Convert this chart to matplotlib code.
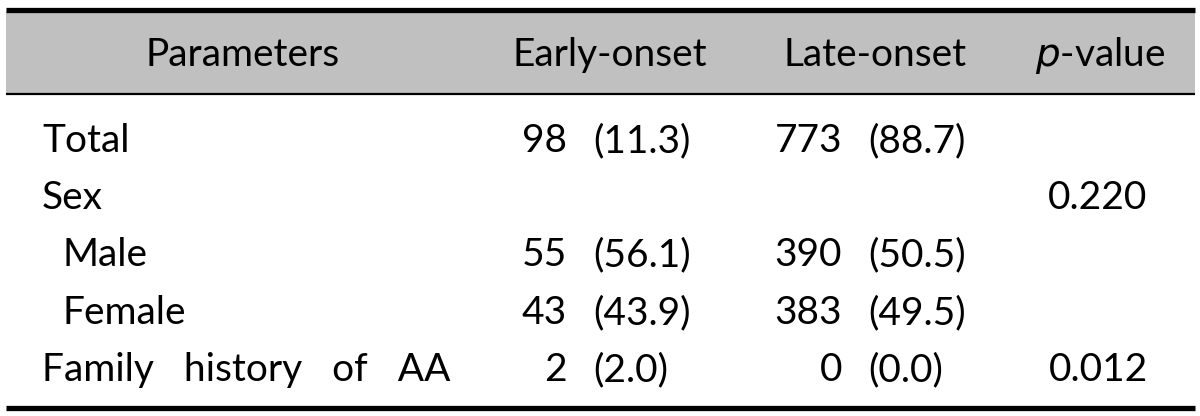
import matplotlib
matplotlib.use("Agg")
import matplotlib.pyplot as plt
from matplotlib.patches import Rectangle

headers = ["Parameters", "Early-onset", "Late-onset", "p-value"]
row_labels = ["Total", "Sex", "Male", "Female", "Family   history   of   AA"]
row_indent = [False, False, True, True, False]
early_n = ["98", "", "55", "43", "2"]
early_pct = ["(11.3)", "", "(56.1)", "(43.9)", "(2.0)"]
late_n = ["773", "", "390", "383", "0"]
late_pct = ["(88.7)", "", "(50.5)", "(49.5)", "(0.0)"]
p_values = ["", "0.220", "", "", "0.012"]

W, H = 1200, 416
fig = plt.figure(figsize=(W / 100, H / 100), dpi=100)
ax = fig.add_axes([0, 0, 1, 1])
ax.set_xlim(0, W)
ax.set_ylim(H, 0)
ax.axis("off")

FONT = "Lato"
FS = 28

# header band and rules
ax.add_patch(Rectangle((6, 11), 1189, 83, facecolor="#c0c0c0", edgecolor="none"))
ax.plot([6, 1195], [9.5, 9.5], color="black", lw=3.8, solid_capstyle="butt")
ax.plot([6, 1195], [93.5, 93.5], color="black", lw=1.6, solid_capstyle="butt")
ax.plot([6, 1195], [407.5, 407.5], color="black", lw=3.8, solid_capstyle="butt")

hy = 66
ax.text(243, hy, headers[0], ha="center", va="baseline", fontsize=FS, family=FONT)
ax.text(610, hy, headers[1], ha="center", va="baseline", fontsize=FS, family=FONT)
ax.text(875, hy, headers[2], ha="center", va="baseline", fontsize=FS, family=FONT)
ax.text(1100, hy, r"$\it{p}$" + "-value", ha="center", va="baseline", fontsize=FS, family=FONT)

baselines = [152, 209, 266, 324, 381]
for i, y in enumerate(baselines):
    x = 62 if row_indent[i] else 42
    ax.text(x, y, row_labels[i], ha="left", va="baseline", fontsize=FS, family=FONT)
    if early_n[i]:
        ax.text(567, y, early_n[i], ha="right", va="baseline", fontsize=FS, family=FONT)
        ax.text(593, y, early_pct[i], ha="left", va="baseline", fontsize=FS, family=FONT)
    if late_n[i]:
        ax.text(842, y, late_n[i], ha="right", va="baseline", fontsize=FS, family=FONT)
        ax.text(868, y, late_pct[i], ha="left", va="baseline", fontsize=FS, family=FONT)
    if p_values[i]:
        ax.text(1098, y, p_values[i], ha="center", va="baseline", fontsize=FS, family=FONT)

fig.savefig("out.png", dpi=100)
